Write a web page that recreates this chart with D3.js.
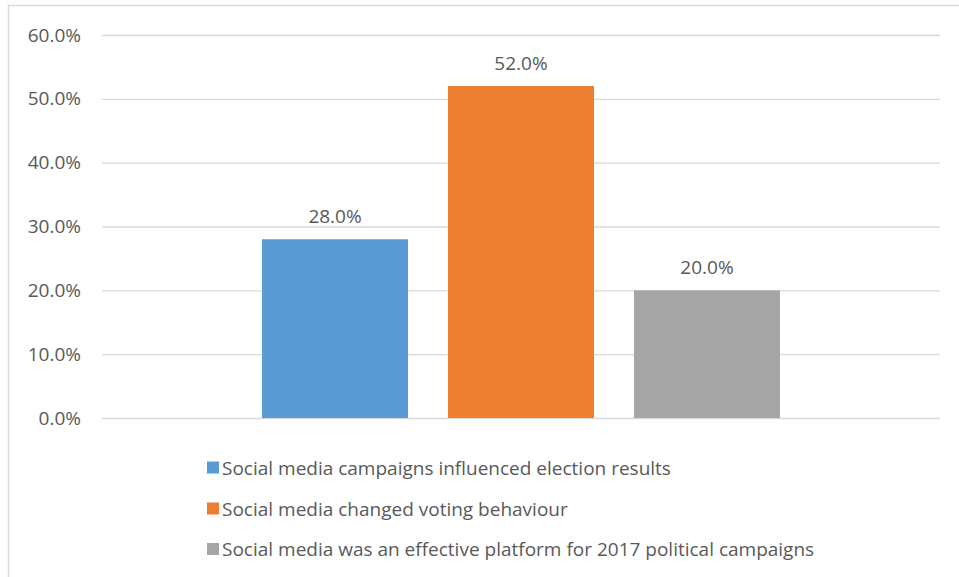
<!DOCTYPE html>
<html>
<head>
<meta charset="utf-8">
<script src="https://cdn.jsdelivr.net/npm/d3@7"></script>
<style>
  html, body { margin: 0; padding: 0; background: #fff; }
  svg { display: block; }
  text { font-family: "Open Sans", "Noto Sans", sans-serif; fill: #595959; }
</style>
</head>
<body>
<svg id="chart" width="959" height="577"></svg>
<script>
// Survey responses on social media and the 2017 election
const categories = [""];
const seriesNames = [
  "Social media campaigns influenced election results",
  "Social media changed voting behaviour",
  "Social media was an effective platform for 2017 political campaigns"
];
const seriesValues = [0.28, 0.52, 0.20];
const seriesColors = ["#5b9bd5", "#ed7d31", "#a5a5a5"];
const yTicks = [0, 0.1, 0.2, 0.3, 0.4, 0.5, 0.6];

const W = 959, H = 577;
const plot = { left: 102, right: 940, top: 35, bottom: 418 };
const FONT = 19;

const svg = d3.select("#chart");

// chart frame
svg.append("rect")
  .attr("x", 8.5).attr("y", 5.5)
  .attr("width", W + 20).attr("height", H + 20)
  .attr("fill", "#fff").attr("stroke", "#d9d9d9").attr("stroke-width", 1.5);

const y = d3.scaleLinear().domain([0, 0.6]).range([plot.bottom, plot.top]);

const x0 = d3.scaleBand().domain(categories)
  .range([plot.left, plot.right]).paddingInner(0).paddingOuter(0.309);
const x1 = d3.scaleBand().domain(seriesNames)
  .range([0, x0.bandwidth()]).paddingInner(0.215).paddingOuter(0);

// gridlines + tick labels via axis
const yAxis = d3.axisLeft(y)
  .tickValues(yTicks)
  .tickFormat(d3.format(".1%"))
  .tickSize(-(plot.right - plot.left))
  .tickPadding(21);

const gAxis = svg.append("g")
  .attr("transform", `translate(${plot.left},0)`)
  .call(yAxis)
  .attr("font-size", FONT)
  .attr("font-family", "'Open Sans', sans-serif");
gAxis.select(".domain").remove();
gAxis.selectAll(".tick line").attr("stroke", "#d9d9d9").attr("stroke-width", 1.3);
gAxis.selectAll(".tick text").attr("fill", "#595959");

// bars
const gCat = svg.append("g").selectAll("g")
  .data(categories).join("g")
  .attr("transform", d => `translate(${x0(d)},0)`);

const barData = seriesNames.map((name, i) => ({ name, value: seriesValues[i], color: seriesColors[i] }));

gCat.selectAll("rect")
  .data(barData).join("rect")
  .attr("x", d => x1(d.name))
  .attr("width", x1.bandwidth())
  .attr("y", d => y(d.value))
  .attr("height", d => y(0) - y(d.value))
  .attr("fill", d => d.color);

// value labels
gCat.selectAll("text.value")
  .data(barData).join("text")
  .attr("class", "value")
  .attr("x", d => x1(d.name) + x1.bandwidth() / 2)
  .attr("y", d => y(d.value) - 23)
  .attr("text-anchor", "middle")
  .attr("dominant-baseline", "central")
  .attr("font-size", FONT)
  .text(d => d3.format(".1%")(d.value));

// legend
const legend = svg.append("g").attr("transform", "translate(207,0)");
const legendRows = [467.5, 508.5, 549];
const lg = legend.selectAll("g")
  .data(barData).join("g")
  .attr("transform", (d, i) => `translate(0,${legendRows[i]})`);
lg.append("rect")
  .attr("x", 0).attr("y", -6)
  .attr("width", 12).attr("height", 12)
  .attr("fill", d => d.color);
lg.append("text")
  .attr("x", 15).attr("y", 0)
  .attr("dominant-baseline", "central")
  .attr("font-size", FONT)
  .text(d => d.name);
</script>
</body>
</html>
